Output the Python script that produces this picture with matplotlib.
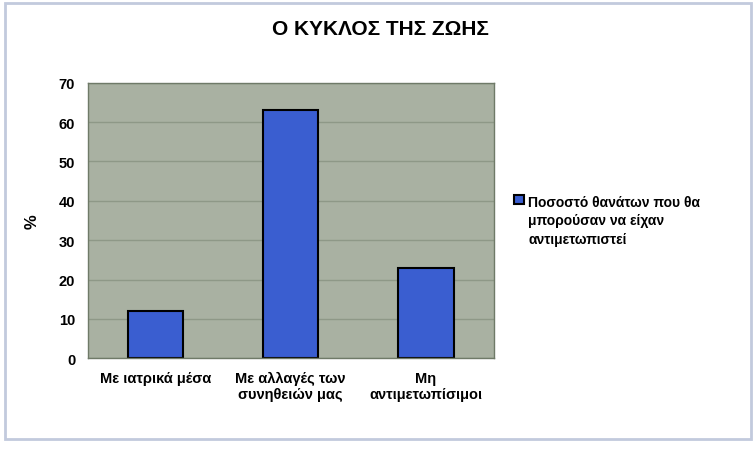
import matplotlib.pyplot as plt
from matplotlib.patches import Rectangle

categories = ['Με ιατρικά μέσα', 'Με αλλαγές των\nσυνηθειών μας', 'Μη\nαντιμετωπίσιμοι']
values = [12, 63, 23]
series_name = 'Ποσοστό θανάτων που θα\nμπορούσαν να είχαν\nαντιμετωπιστεί'
yticks = [0, 10, 20, 30, 40, 50, 60, 70]

plt.rcParams['font.family'] = ['Liberation Sans', 'DejaVu Sans']
plt.rcParams['font.weight'] = 'bold'

fig = plt.figure(figsize=(7.56, 4.52), dpi=100)
ax = fig.add_axes([0.116, 0.205, 0.537, 0.61])
ax.set_facecolor('#a9b1a2')
ax.set_axisbelow(True)
ax.yaxis.grid(True, color='#8e9887', linewidth=1)

bars = ax.bar(range(len(categories)), values, width=0.41, color='#3a5ed0',
              edgecolor='black', linewidth=1.5, label=series_name)

ax.set_xlim(-0.5, 2.5)
ax.set_ylim(0, 70)
ax.set_yticks(yticks)
ax.set_xticks(range(len(categories)))
ax.set_xticklabels(categories, fontsize=10.5)
ax.tick_params(axis='y', labelsize=10.5, length=0, pad=9)
ax.tick_params(axis='x', length=0, pad=9)
for s in ax.spines.values():
    s.set_color('#6f7a68')
    s.set_linewidth(1)

ax.set_ylabel('%', fontsize=12, fontweight='bold', labelpad=14)
fig.text(0.503, 0.934, 'Ο ΚΥΚΛΟΣ ΤΗΣ ΖΩΗΣ', ha='center', va='center', fontsize=15, fontweight='bold')

leg = fig.legend(handles=[bars], labels=[series_name], loc='center left',
                 bbox_to_anchor=(0.664, 0.51), frameon=False, fontsize=10,
                 handlelength=0.7, handleheight=0.7, handletextpad=0.3)
for t in leg.get_texts():
    t.set_linespacing(1.45)
# put the marker next to the first line of the label
for col in leg._legend_handle_box.get_children():
    for item in col.get_children():
        item.align = 'top'

# light frame around the chart area
fig.patches.append(Rectangle((0.006, 0.027), 0.988, 0.965, transform=fig.transFigure,
                             fill=False, edgecolor='#c2cadd', linewidth=2))

fig.savefig('out.png', dpi=100)
